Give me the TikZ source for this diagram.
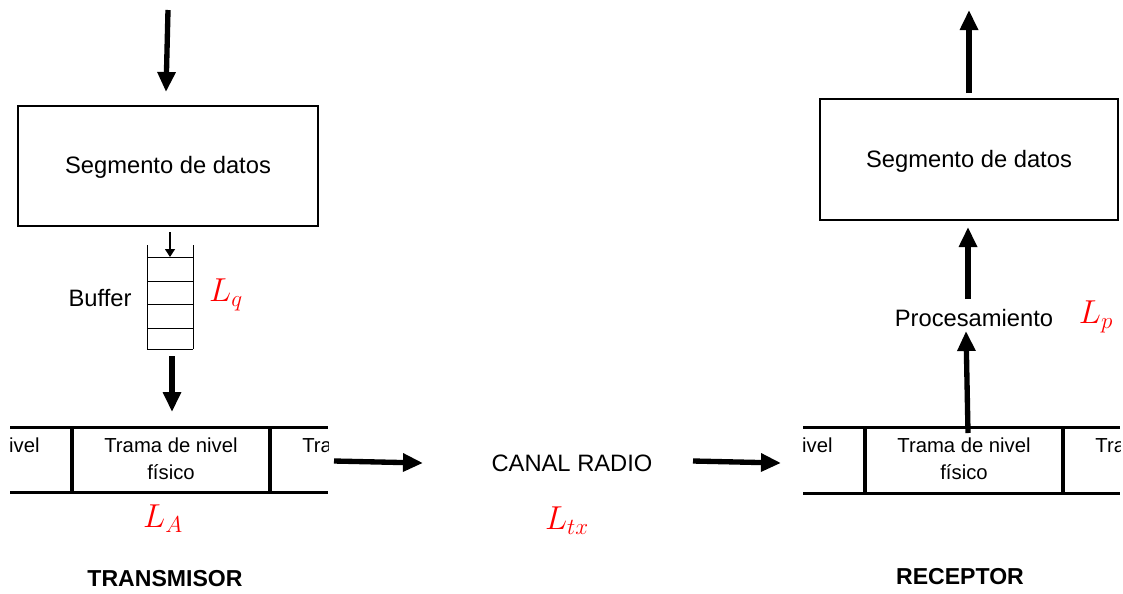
\documentclass[tikz,border=0pt]{standalone}
\usepackage{fontspec}
\setmainfont{Liberation Sans}
\usetikzlibrary{arrows.meta}

\tikzset{
  flecha/.style={line width=4pt,-{Triangle[length=15pt,width=13pt]}},
  caja/.style={draw,line width=1.5pt,inner sep=0pt,font=\fontsize{17.8}{21}\selectfont},
  texto/.style={inner sep=0.75pt,font=\fontsize{17.8}{21}\selectfont},
  titulo/.style={inner sep=0.75pt,font=\fontsize{17.3}{21}\selectfont\bfseries},
  latencia/.style={inner sep=0.75pt,text=red,font=\fontsize{24}{28}\selectfont},
  trama/.style={inner sep=0pt,align=center,font=\fontsize{15.2}{20}\selectfont},
}

\begin{document}
\begin{tikzpicture}[x=0.75pt,y=0.75pt,yscale=-1,xscale=1]
\useasboundingbox (0,0) rectangle (1123,593);

%Shape: Rectangle
\node[caja,minimum width=225pt,minimum height=90pt] (segTx) at (168,166) {};
\node[texto] (segTxT) at (168,167) {Segmento de datos};
%Shape: Rectangle
\node[caja,minimum width=223.5pt,minimum height=90.75pt] (segRx) at (969,159.5) {};
\node[texto] (segRxT) at (969,161) {Segmento de datos};

%Buffer
\draw[line width=0.75pt] (147,245) -- (147,349) (193,245) -- (193,349);
\foreach \y in {257,281,304,328,349} {
  \draw[line width=0.75pt] (147,\y) -- (193,\y);
}
\coordinate (bufIn) at (170,232);
\coordinate (bufTop) at (170,257);
\draw[line width=0.9pt,-{Triangle[length=6pt,width=7.5pt]}] (bufIn) -- (bufTop);

%Tramas del transmisor
\begin{scope}
\clip (10,415) rectangle (328,505);
\draw[line width=2.25pt] (10,427) -- (328,427) (10,492) -- (328,492);
\foreach \c [count=\i] in {-27,171,369} {
  \draw[line width=3.5pt] (\c-99,427) -- (\c-99,492);
  \node[trama] (trTx\i) at (\c,458.5) {Trama de nivel\\físico};
}
\end{scope}

%Tramas del receptor
\begin{scope}
\clip (803,415) rectangle (1120,505);
\draw[line width=2.25pt] (803,427) -- (1120,427) (803,493) -- (1120,493);
\foreach \c [count=\i] in {766,964,1162} {
  \draw[line width=3.5pt] (\c-99,427) -- (\c-99,493);
  \node[trama] (trRx\i) at (\c,459) {Trama de nivel\\físico};
}
\end{scope}

% Text Node
\node[texto] (buffer) at (100,298) {Buffer};
\node[texto] (canal) at (572,463) {CANAL RADIO};
\node[texto] (proc) at (974,318) {Procesamiento};
\node[titulo] (tx) at (165,579) {TRANSMISOR};
\node[titulo] (rx) at (960,577) {RECEPTOR};

% Latencias
\node[latencia] (lq) at (226,295) {$L_q$};
\node[latencia] (la) at (163,519) {$L_A$};
\node[latencia] (ltx) at (567,521) {$L_{tx}$};
\node[latencia] (lp) at (1096,317) {$L_p$};

%Straight Lines
\coordinate (inTx) at (168,10);
\coordinate (inTxF) at (166,92);
\draw[flecha] (inTx) -- (inTxF);
\coordinate (bufOut) at (172,356);
\coordinate (trTxIn) at (172,412);
\draw[flecha] (bufOut) -- (trTxIn);
\coordinate (trTxOut) at (334,461);
\coordinate (canalIn) at (423,463);
\draw[flecha] (trTxOut) -- (canalIn);
\coordinate (canalOut) at (693,461);
\coordinate (trRxIn) at (781,463);
\draw[flecha] (canalOut) -- (trRxIn);
\coordinate (trRxOut) at (968,433);
\coordinate (procIn) at (966,331);
\draw[flecha] (trRxOut) -- (procIn);
\coordinate (procOut) at (968,299);
\coordinate (segRxIn) at (968,227);
\draw[flecha] (procOut) -- (segRxIn);
\coordinate (segRxOut) at (969,93);
\coordinate (salida) at (969,10);
\draw[flecha] (segRxOut) -- (salida);

\end{tikzpicture}
\end{document}
